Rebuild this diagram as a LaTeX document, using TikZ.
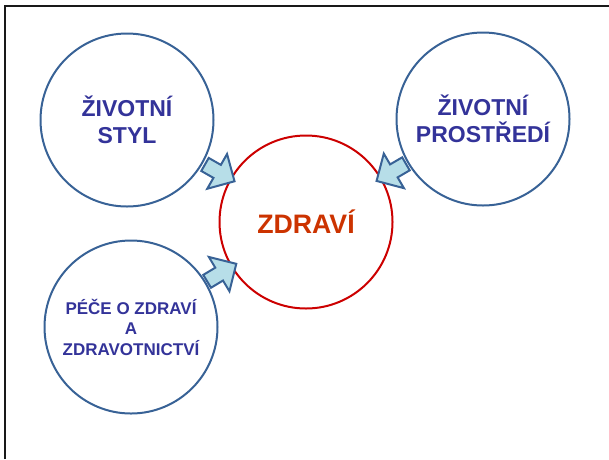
\documentclass[tikz,border=0pt]{standalone}
\usepackage{fontspec}
\setmainfont{Liberation Sans}
\usetikzlibrary{shapes.arrows}
\definecolor{ringblue}{RGB}{56,98,150}
\definecolor{textblue}{RGB}{51,51,153}
\definecolor{ringred}{RGB}{204,0,0}
\definecolor{healthred}{RGB}{204,51,0}
\definecolor{arrowfill}{RGB}{183,222,232}
\tikzset{
  bubble/.style = {circle, draw=ringblue, line width=2pt, minimum size=173pt, inner sep=0pt, align=center, text=textblue, font=\bfseries\fontsize{23}{27}\selectfont},
  core/.style = {bubble, draw=ringred, text=healthred, font=\bfseries\fontsize{26.7}{32}\selectfont},
  smallbubble/.style = {bubble, font=\bfseries\fontsize{17}{20.5}\selectfont},
  fatarrow/.style = {single arrow, draw=ringblue, fill=arrowfill, line width=2pt, minimum height=34pt, inner xsep=0pt, inner ysep=6.5pt, single arrow head extend=12.5pt, single arrow tip angle=90, sloped, allow upside down},
  frameline/.style = {line width=2.5pt, draw=black!90}
}

\begin{document}
\begin{tikzpicture}[x=1pt, y=-1pt]
\useasboundingbox (0,0) rectangle (609,459);

% slide frame
\draw[frameline] (5,459) -- (5,6) -- (609,6);

% circles
\node[bubble] (styl) at (127,120) {ŽIVOTNÍ\\STYL};
\node[bubble] (prostredi) at (483,119) {ŽIVOTNÍ\\PROSTŘEDÍ};
\node[core] (zdravi) at (306,222) {ZDRAVÍ};
\node[smallbubble] (pece) at (131,327) {PÉČE O ZDRAVÍ\\A\\ZDRAVOTNICTVÍ};

% arrows into the centre
\path (styl) -- (zdravi) node[fatarrow, midway] (stylArrow) {};
\path (prostredi) -- (zdravi) node[fatarrow, midway] (prostrediArrow) {};
\path (pece) -- (zdravi) node[fatarrow, midway] (peceArrow) {};

\end{tikzpicture}
\end{document}
